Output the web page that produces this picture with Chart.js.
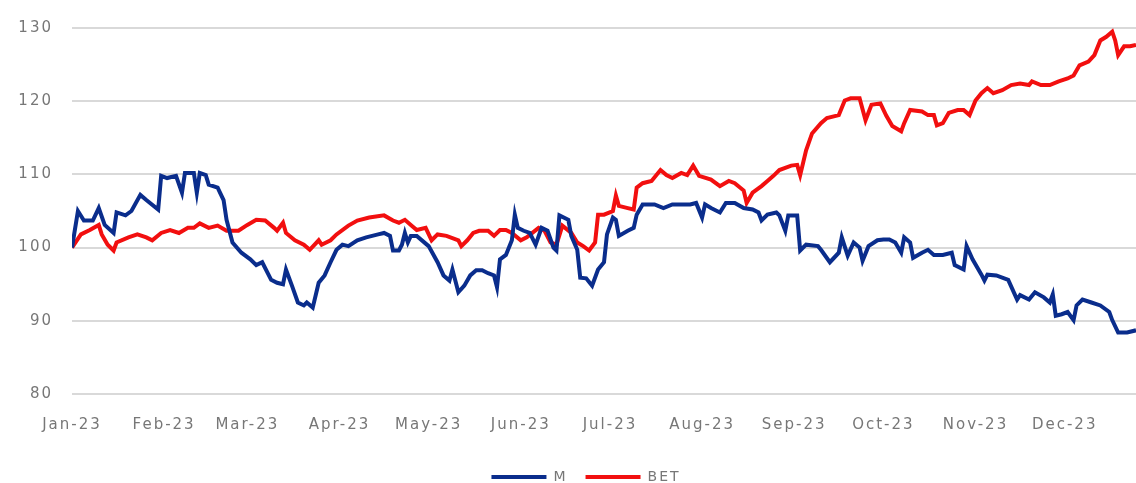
<!DOCTYPE html>
<html>
<head>
<meta charset="utf-8">
<script src="https://cdn.jsdelivr.net/npm/chart.js@4"></script>
<style>
  html, body { margin: 0; padding: 0; background: #fff; overflow: hidden; }
  #wrap { width: 1136px; height: 483px; overflow: hidden; }
</style>
</head>
<body>
<div id="wrap"><canvas id="grafico" width="1136" height="494"></canvas></div>
<script>
const meses = ["Jan-23", "Feb-23", "Mar-23", "Apr-23", "May-23", "Jun-23", "Jul-23", "Aug-23", "Sep-23", "Oct-23", "Nov-23", "Dec-23"];
const inicioMes = [0, 31, 59, 90, 120, 151, 181, 212, 243, 273, 304, 334];
const ticksY = [80, 90, 100, 110, 120, 130];

// dia do ano (0 = 1 jan) e valor
const diasM = [0, 2, 4, 7, 9, 11, 14, 15, 18, 20, 23, 25, 29, 30, 32, 35, 37, 38, 41, 42, 43, 45, 46, 49, 51, 52, 54, 57, 60, 62, 64, 67, 69, 71, 72, 74, 76, 78, 79, 81, 83, 85, 87, 89, 91, 93, 96, 99, 103, 105, 107, 108, 110, 111, 112, 113, 114, 116, 120, 123, 125, 127, 128, 130, 132, 134, 136, 138, 140, 142, 143, 144, 146, 148, 149, 150, 152, 154, 156, 158, 160, 162, 163, 164, 167, 168, 170, 171, 173, 175, 177, 179, 180, 182, 183, 184, 187, 189, 190, 192, 196, 199, 202, 206, 208, 210, 212, 213, 215, 218, 220, 223, 226, 229, 231, 232, 234, 237, 238, 240, 241, 244, 245, 247, 251, 252, 255, 258, 259, 261, 263, 265, 266, 268, 271, 273, 275, 277, 279, 280, 282, 283, 286, 288, 290, 293, 296, 297, 300, 301, 303, 306, 307, 308, 311, 315, 318, 319, 322, 324, 327, 329, 330, 331, 333, 335, 337, 338, 340, 343, 346, 349, 350, 352, 355, 358];
const valoresM = [100, 105, 103.7, 103.7, 105.4, 103.1, 102, 104.8, 104.4, 105, 107.2, 106.5, 105.2, 109.8, 109.5, 109.8, 107.5, 110.2, 110.2, 107.5, 110.2, 109.9, 108.6, 108.2, 106.5, 103.8, 100.7, 99.3, 98.4, 97.6, 98, 95.6, 95.2, 95, 97, 94.8, 92.5, 92.1, 92.5, 91.8, 95.2, 96.2, 98, 99.7, 100.4, 100.2, 101, 101.4, 101.8, 102, 101.6, 99.6, 99.6, 100.4, 102, 100.7, 101.6, 101.6, 100.2, 98, 96.2, 95.5, 97, 93.9, 94.8, 96.2, 96.9, 96.9, 96.5, 96.2, 94.6, 98.4, 99, 101, 104.5, 102.7, 102.3, 102, 100.4, 102.7, 102.3, 100, 99.6, 104.4, 103.8, 101.6, 99.7, 95.9, 95.8, 94.8, 97, 98, 101.8, 104.1, 103.8, 101.6, 102.3, 102.7, 104.5, 105.9, 105.9, 105.4, 105.9, 105.9, 105.9, 106.1, 104.1, 105.9, 105.4, 104.8, 106.1, 106.1, 105.4, 105.2, 104.8, 103.7, 104.5, 104.8, 104.4, 102.3, 104.4, 104.4, 99.6, 100.4, 100.2, 99.7, 98, 99.3, 101.4, 98.9, 100.7, 100, 98.2, 100.2, 101, 101.1, 101.1, 100.7, 99.3, 101.4, 100.7, 98.6, 99.3, 99.7, 99, 99, 99.3, 97.6, 97, 100.2, 98.4, 96.3, 95.5, 96.3, 96.2, 95.6, 92.9, 93.5, 92.9, 93.9, 93.2, 92.5, 93.6, 90.7, 90.9, 91.2, 90.1, 92.1, 92.9, 92.5, 92.1, 91.2, 90.1, 88.4, 88.4, 88.7];

const diasBET = [0, 3, 6, 9, 10, 12, 14, 15, 19, 22, 25, 27, 30, 33, 36, 39, 41, 43, 46, 49, 52, 56, 59, 62, 65, 68, 69, 71, 72, 75, 78, 80, 83, 84, 87, 89, 93, 96, 100, 105, 108, 110, 112, 114, 116, 119, 121, 123, 126, 130, 131, 133, 135, 137, 140, 142, 144, 146, 148, 151, 153, 157, 159, 161, 163, 165, 168, 170, 172, 174, 176, 177, 179, 182, 183, 184, 187, 189, 190, 192, 195, 198, 200, 202, 205, 207, 209, 211, 215, 218, 221, 223, 226, 227, 229, 232, 234, 236, 238, 242, 244, 245, 247, 249, 252, 254, 258, 260, 262, 265, 267, 269, 272, 274, 276, 279, 280, 282, 286, 288, 290, 291, 293, 295, 298, 300, 302, 304, 306, 308, 310, 313, 316, 319, 322, 323, 326, 329, 332, 335, 337, 339, 342, 344, 346, 348, 350, 351, 352, 354, 356, 358];
const valoresBET = [100, 101.8, 102.4, 103.1, 101.8, 100.4, 99.6, 100.7, 101.4, 101.8, 101.4, 101, 102, 102.4, 102, 102.7, 102.7, 103.3, 102.7, 103, 102.3, 102.3, 103.1, 103.8, 103.7, 102.7, 102.3, 103.4, 102, 101, 100.4, 99.7, 101, 100.4, 101, 101.8, 103, 103.7, 104.1, 104.4, 103.7, 103.4, 103.8, 103.1, 102.4, 102.7, 101, 101.8, 101.6, 101, 100.2, 101, 102, 102.3, 102.3, 101.6, 102.4, 102.4, 102, 101, 101.4, 102.7, 102.3, 100.7, 100.4, 103, 102, 100.7, 100.2, 99.6, 100.7, 104.5, 104.5, 105, 107.1, 105.7, 105.4, 105.2, 108.2, 108.8, 109.1, 110.6, 109.9, 109.5, 110.2, 109.9, 111.2, 109.8, 109.3, 108.4, 109.1, 108.8, 107.8, 106.1, 107.5, 108.4, 109.1, 109.8, 110.6, 111.2, 111.3, 109.9, 113.3, 115.6, 117, 117.7, 118.1, 120.1, 120.4, 120.4, 117.4, 119.5, 119.7, 118, 116.6, 115.9, 117, 118.8, 118.6, 118.1, 118.1, 116.7, 117, 118.4, 118.8, 118.8, 118.1, 120.1, 121.1, 121.8, 121.1, 121.5, 122.2, 122.4, 122.2, 122.7, 122.2, 122.2, 122.7, 123.1, 123.5, 124.9, 125.4, 126.3, 128.3, 128.8, 129.5, 128.3, 126.3, 127.5, 127.5, 127.7];

const corTexto = "#777777";
const corGrade = "#d9d9d9";
const fonte = "'DejaVu Sans', sans-serif";

function montarPontos(dias, valores) {
  return dias.map((d, i) => ({ x: d, y: valores[i] }));
}

// o texto do original e bem espacado
const espacamento = {
  id: "espacamento",
  beforeUpdate(chart) { chart.ctx.letterSpacing = "2px"; },
  beforeDraw(chart) { chart.ctx.letterSpacing = "2px"; },
  // legenda do original fica um pouco a direita do centro
  afterLayout(chart) { if (chart.legend) chart.legend.left += 36; }
};

const ctx = document.getElementById("grafico").getContext("2d");

new Chart(ctx, {
  type: "line",
  data: {
    datasets: [
      {
        label: "M",
        data: montarPontos(diasM, valoresM),
        borderColor: "#0a2d8c",
        backgroundColor: "#0a2d8c",
        borderWidth: 4,
        pointRadius: 0,
        tension: 0,
      },
      {
        label: "BET",
        data: montarPontos(diasBET, valoresBET),
        borderColor: "#f20f0f",
        backgroundColor: "#f20f0f",
        borderWidth: 4,
        pointRadius: 0,
        tension: 0,
      },
    ],
  },
  options: {
    responsive: false,
    animation: false,
    layout: { padding: { top: 23, right: 0, bottom: 0, left: 0 } },
    plugins: {
      tooltip: { enabled: false },
      legend: {
        position: "bottom",
        labels: {
          usePointStyle: true,
          pointStyle: "line",
          pointStyleWidth: 55,
          padding: 18,
          color: corTexto,
          font: { family: fonte, size: 14 },
        },
      },
    },
    scales: {
      x: {
        type: "linear",
        min: 0,
        max: 358,
        afterFit(scale) { scale.height = 58; },
        afterBuildTicks(scale) {
          scale.ticks = inicioMes.map(v => ({ value: v }));
        },
        ticks: {
          autoSkip: false,
          maxRotation: 0,
          padding: 22,
          color: corTexto,
          font: { family: fonte, size: 15 },
          callback: (v) => meses[inicioMes.indexOf(v)],
        },
        grid: { display: false, drawTicks: false },
        border: { display: false },
      },
      y: {
        min: 80,
        max: 130,
        afterFit(scale) { scale.width = 72; },
        afterBuildTicks(scale) {
          scale.ticks = ticksY.map(v => ({ value: v }));
        },
        ticks: {
          padding: 19,
          color: corTexto,
          font: { family: fonte, size: 15 },
        },
        grid: { color: corGrade, lineWidth: 2, drawTicks: false },
        border: { display: false },
      },
    },
  },
  plugins: [espacamento],
});
</script>
</body>
</html>
